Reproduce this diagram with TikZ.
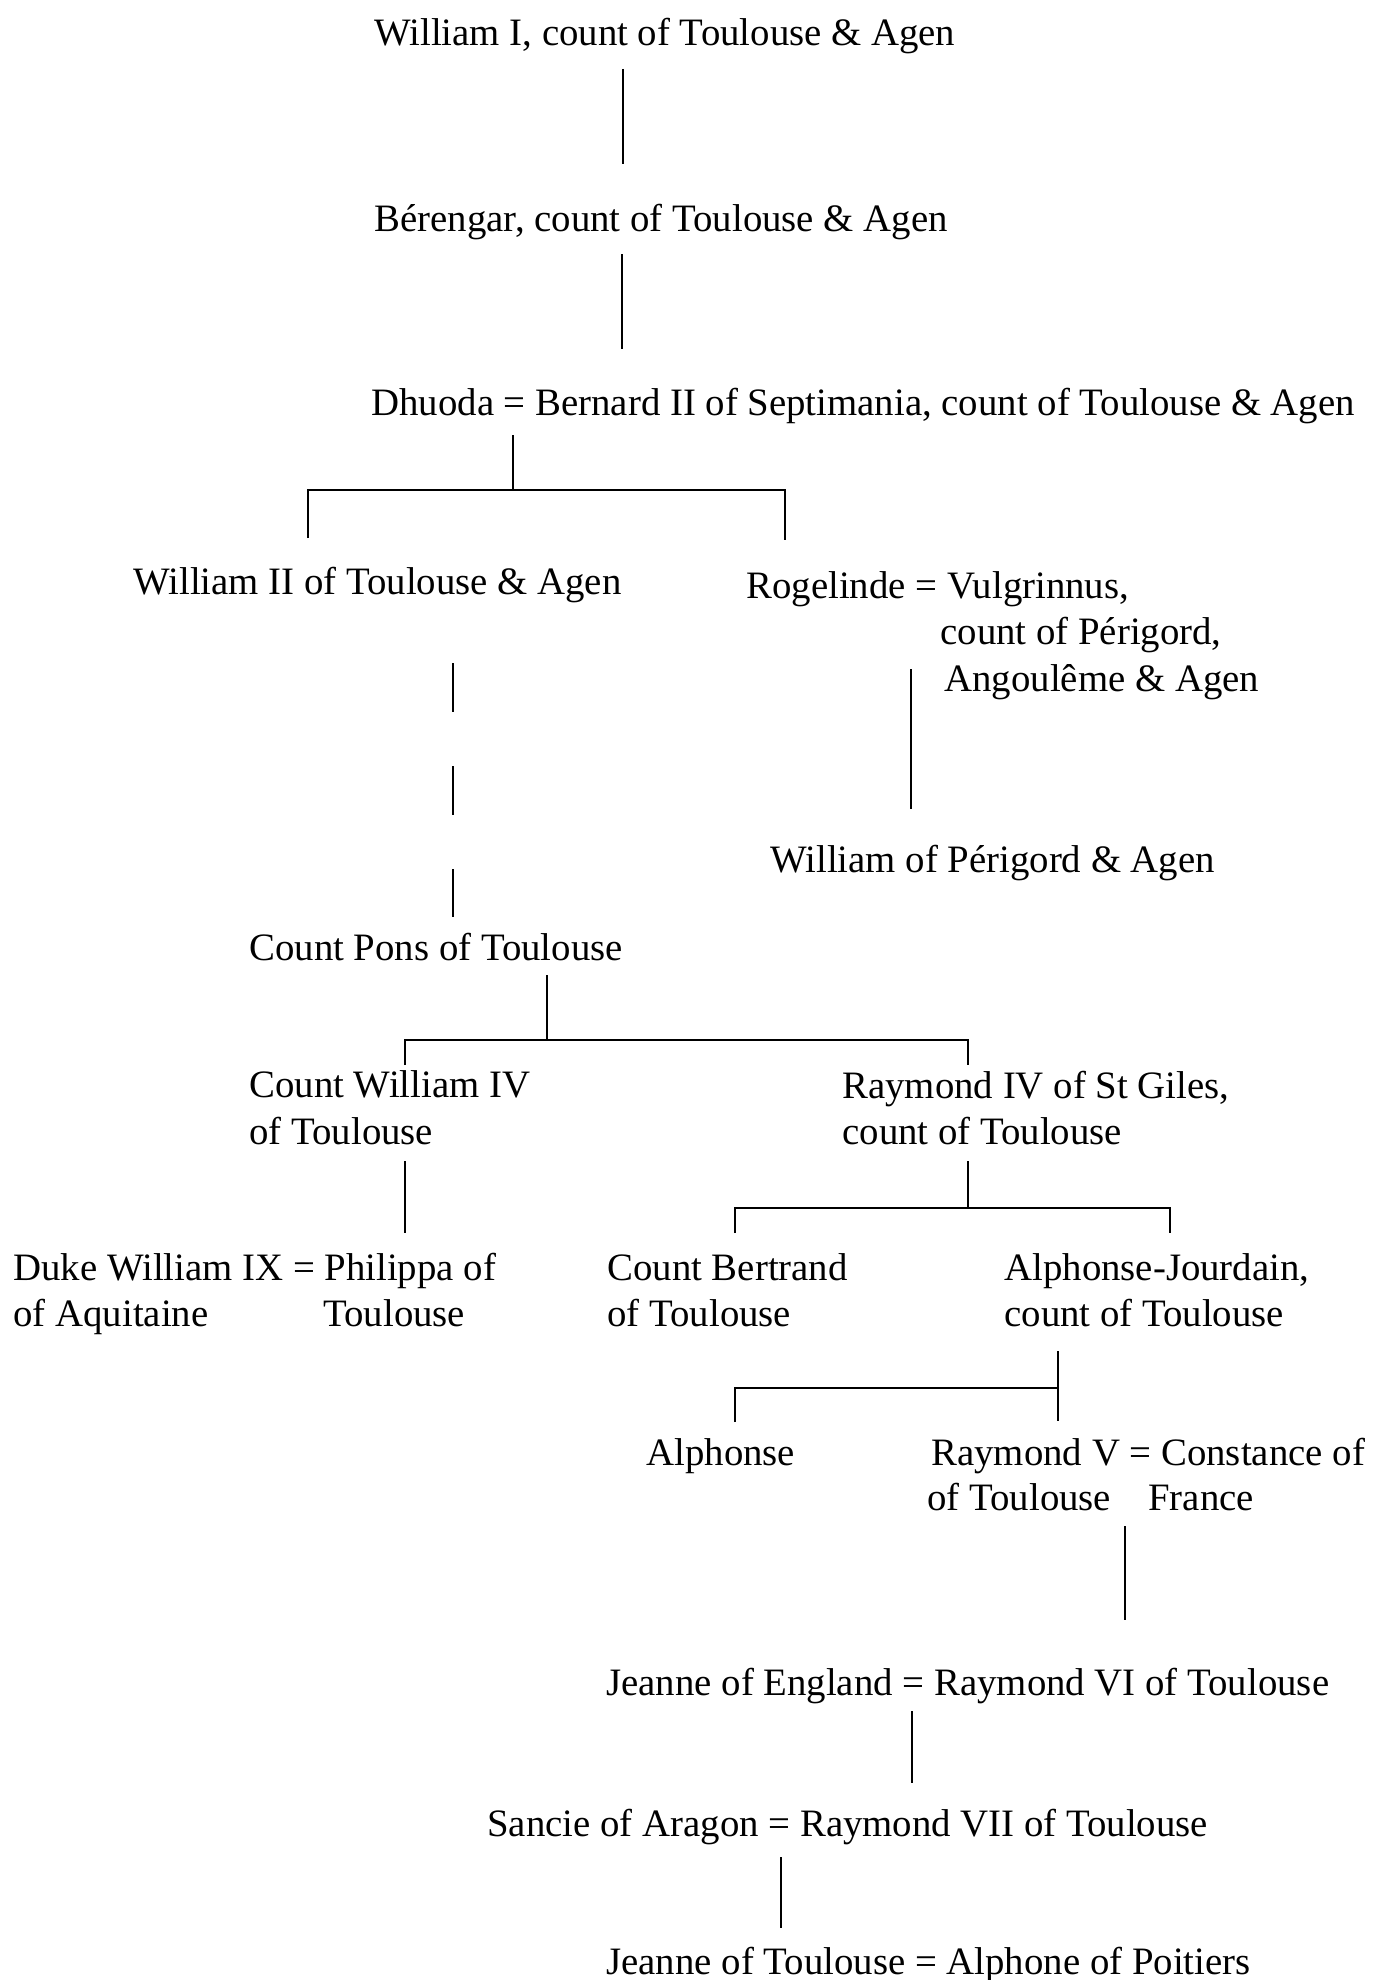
\documentclass[tikz,border=0pt]{standalone}
\usepackage{fontspec}
\setmainfont{Liberation Serif}
\begin{document}
\begin{tikzpicture}[x=0.5pt,y=-0.5pt,
  txt/.style={anchor=base west, inner sep=0pt, font=\fontsize{19.4pt}{23pt}\selectfont},
  link/.style={line width=1.1pt},
  bar/.style={line width=1.4pt}]
\useasboundingbox (0,0) rectangle (1379,1980);
% ---- text nodes
\node[txt] (wI)   at (374,46)   {William I, count of Toulouse \& Agen};
\node[txt] (ber)  at (374,231)  {Bérengar, count of Toulouse \& Agen};
\node[txt] (dhu)  at (371,415)  {Dhuoda = Bernard II of Septimania, count of Toulouse \& Agen};
\node[txt] (wII)  at (133,594)  {William II of Toulouse \& Agen};
\node[txt] (rog1) at (746,598)  {Rogelinde = Vulgrinnus,};
\node[txt] (rog2) at (940,644)  {count of Périgord,};
\node[txt] (rog3) at (944,691)  {Angoulême \& Agen};
\node[txt] (wper) at (770,872)  {William of Périgord \& Agen};
\node[txt] (pons) at (249,960)  {Count Pons of Toulouse};
\node[txt] (wIVa) at (249,1097) {Count William IV};
\node[txt] (wIVb) at (249,1144) {of Toulouse};
\node[txt] (rIVa) at (842,1098) {Raymond IV of St Giles,};
\node[txt] (rIVb) at (842,1144) {count of Toulouse};
\node[txt] (dwa)  at (13,1280)  {Duke William IX = Philippa of};
\node[txt] (dwb)  at (13,1326)  {of Aquitaine};
\node[txt] (phb)  at (323,1326) {Toulouse};
\node[txt] (bera) at (607,1280) {Count Bertrand};
\node[txt] (berb) at (607,1326) {of Toulouse};
\node[txt] (aja)  at (1004,1280) {Alphonse-Jourdain,};
\node[txt] (ajb)  at (1004,1326) {count of Toulouse};
\node[txt] (alph) at (646,1465) {Alphonse};
\node[txt] (rVa)  at (931,1465) {Raymond V = Constance of};
\node[txt] (rVb)  at (927,1510) {of Toulouse};
\node[txt] (fr)   at (1148,1510) {France};
\node[txt] (jeng) at (606,1695) {Jeanne of England = Raymond VI of Toulouse};
\node[txt] (sanc) at (487,1836) {Sancie of Aragon = Raymond VII of Toulouse};
\node[txt] (jtou) at (606,1974) {Jeanne of Toulouse = Alphone of Poitiers};
% ---- connector end points
\coordinate (l1a) at (623,69);   \coordinate (l1b) at (623,164);
\coordinate (l2a) at (622,254);  \coordinate (l2b) at (622,349);
\coordinate (d3a) at (513,435);  \coordinate (d3b) at (513,490);
\coordinate (b3l) at (308,490);  \coordinate (b3r) at (785,490);
\coordinate (b3ld) at (308,538); \coordinate (b3rd) at (785,540);
\coordinate (dsa) at (453,663);  \coordinate (dsb) at (453,917);
\coordinate (rga) at (911,669);  \coordinate (rgb) at (911,809);
\coordinate (poa) at (547,975);  \coordinate (pob) at (547,1040);
\coordinate (pbl) at (405,1040); \coordinate (pbr) at (968,1040);
\coordinate (pbld) at (405,1065); \coordinate (pbrd) at (968,1065);
\coordinate (w4a) at (405,1161); \coordinate (w4b) at (405,1233);
\coordinate (r4a) at (968,1161); \coordinate (r4b) at (968,1208);
\coordinate (r4l) at (735,1208); \coordinate (r4r) at (1170,1208);
\coordinate (r4ld) at (735,1233); \coordinate (r4rd) at (1170,1233);
\coordinate (aja1) at (1058,1351); \coordinate (aja2) at (1058,1421);
\coordinate (ajbar) at (1058,1388); \coordinate (ajl) at (735,1388);
\coordinate (ajld) at (735,1422);
\coordinate (r5a) at (1125,1526); \coordinate (r5b) at (1125,1620);
\coordinate (j6a) at (912,1711);  \coordinate (j6b) at (912,1783);
\coordinate (s7a) at (781,1857);  \coordinate (s7b) at (781,1928);
% ---- connectors
\draw[link] (l1a) -- (l1b);
\draw[link] (l2a) -- (l2b);
\draw[link] (d3a) -- (d3b);
\draw[bar] (b3ld) -- (b3l) -- (b3r) -- (b3rd);
\draw[link, dash pattern=on 24.5pt off 27pt] (dsa) -- (dsb);
\draw[link] (rga) -- (rgb);
\draw[link] (poa) -- (pob);
\draw[bar] (pbld) -- (pbl) -- (pbr) -- (pbrd);
\draw[link] (w4a) -- (w4b);
\draw[link] (r4a) -- (r4b);
\draw[bar] (r4ld) -- (r4l) -- (r4r) -- (r4rd);
\draw[link] (aja1) -- (aja2);
\draw[bar] (ajld) -- (ajl) -- (ajbar);
\draw[link] (r5a) -- (r5b);
\draw[link] (j6a) -- (j6b);
\draw[link] (s7a) -- (s7b);
\end{tikzpicture}
\end{document}
